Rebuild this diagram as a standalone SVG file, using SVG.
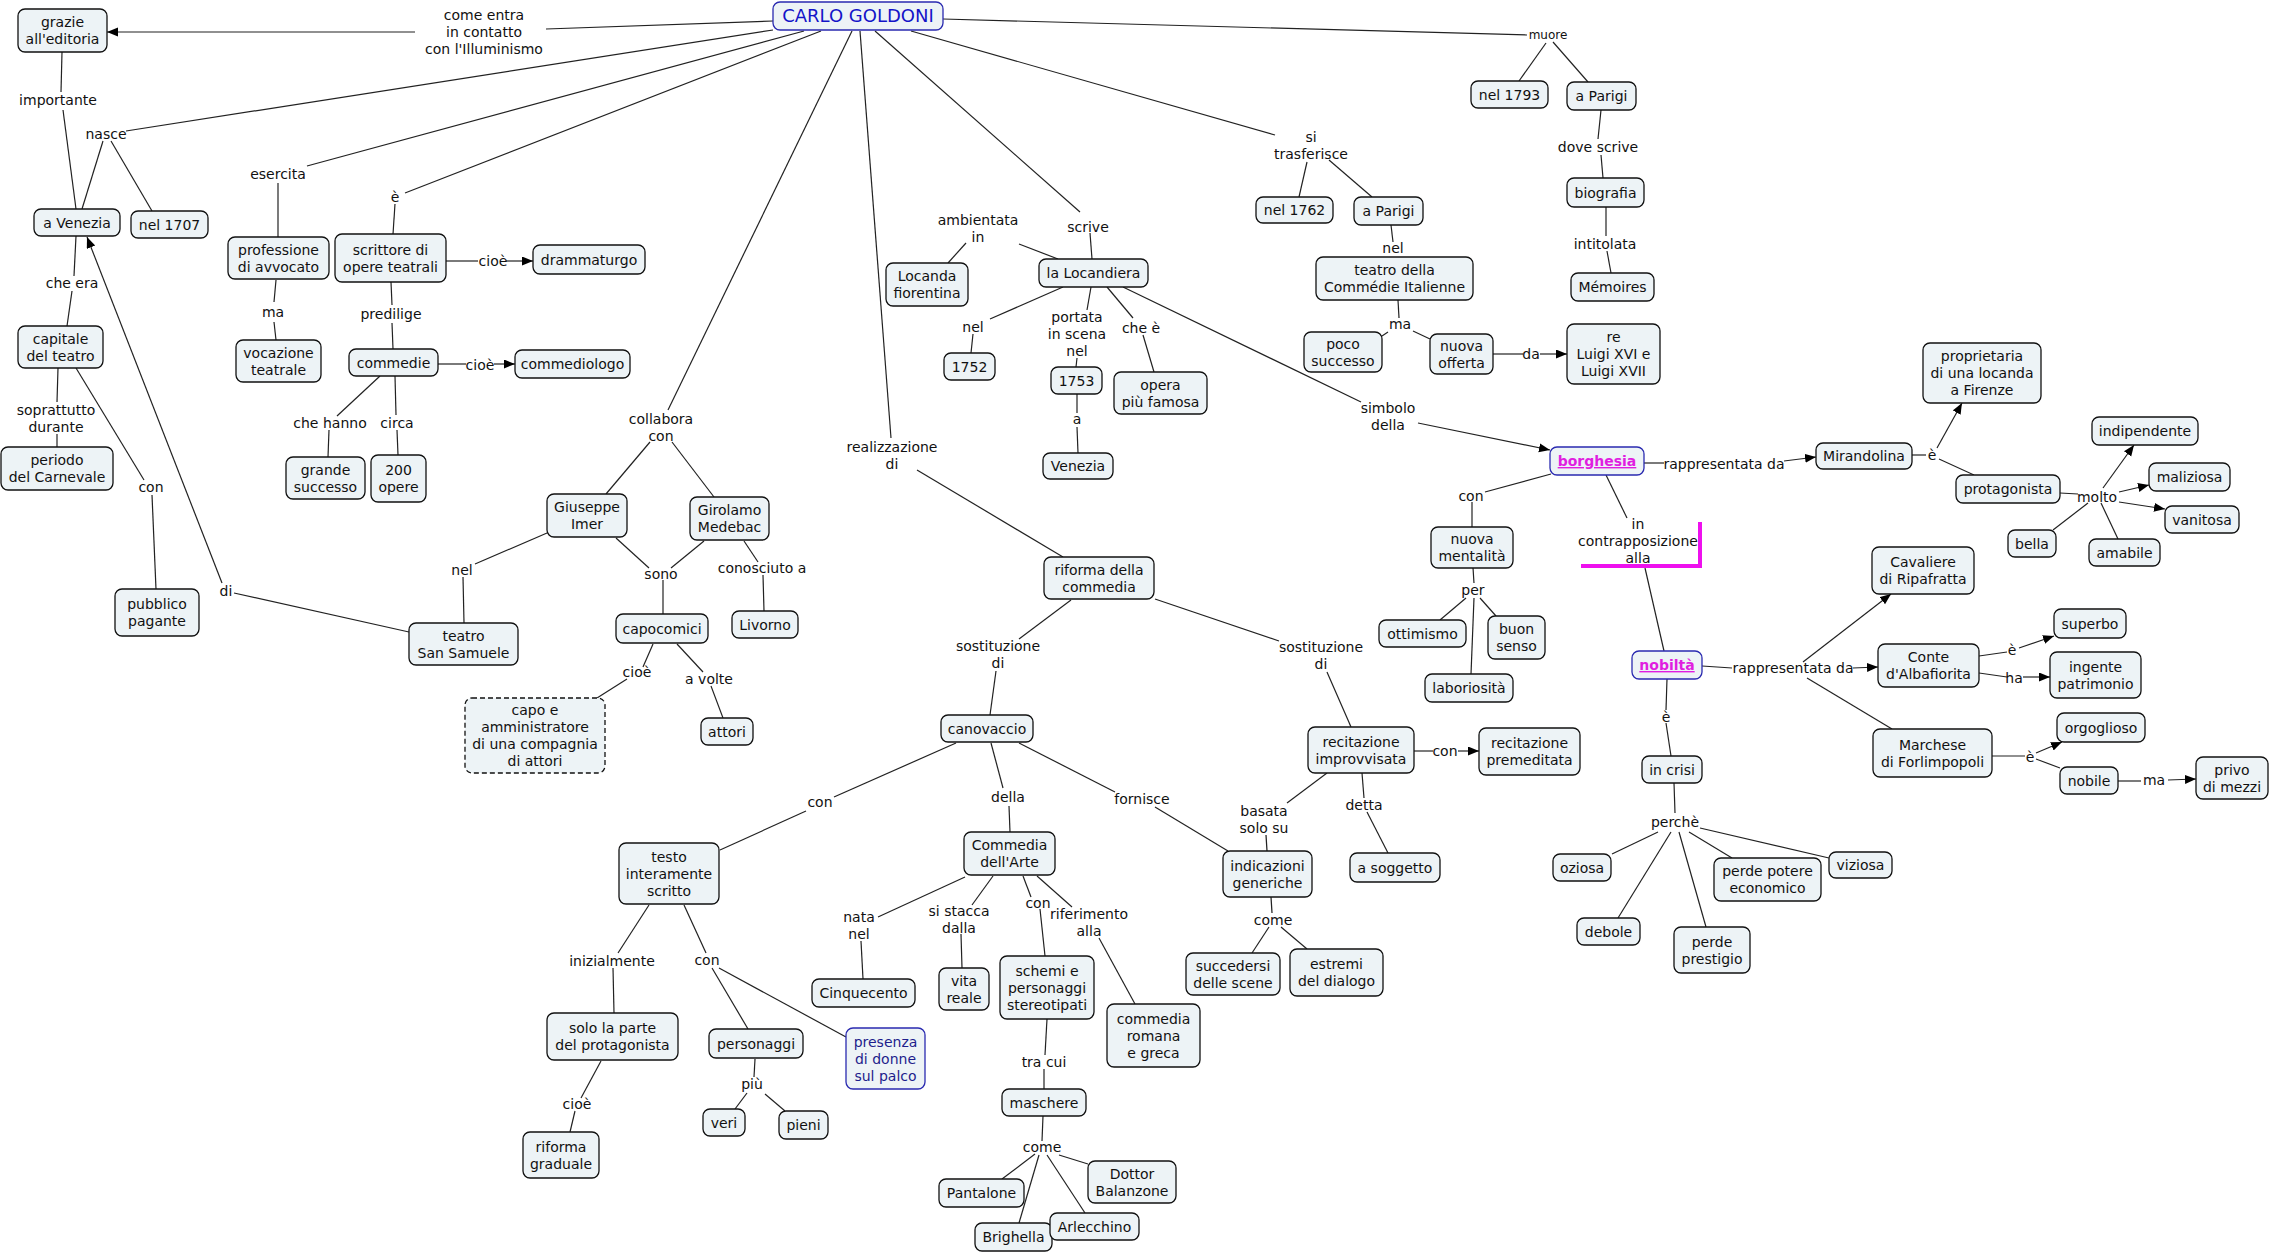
<svg xmlns="http://www.w3.org/2000/svg" width="2274" height="1254" viewBox="0 0 2274 1254">
<style>
text{font-family:"DejaVu Sans",Verdana,sans-serif;font-size:14px;fill:#111;text-anchor:middle}
.node rect{fill:#edf3f6;stroke:#111;stroke-width:1.3}
.blue rect{stroke:#2a2ab0}
.dash rect{stroke-dasharray:5 3}
#connectors line{stroke:#222;stroke-width:1.2}
.arr{marker-end:url(#ah)}
.title{font-size:18px;fill:#1414c8}
.mag{fill:#e01ee0;font-weight:bold;text-decoration:underline}
.dblue{fill:#1e1e8c}
.small{font-size:12px}
</style>
<defs>
<marker id="ah" markerUnits="userSpaceOnUse" markerWidth="12" markerHeight="10" refX="11" refY="4.5" orient="auto"><path d="M0,0 L11,4.5 L0,9 z" fill="#000"/></marker>
</defs>
<rect width="2274" height="1254" fill="#fff"/>
<g id="connectors">
<line x1="773" y1="21" x2="546" y2="29"/>
<line class="arr" x1="415" y1="32" x2="107" y2="32"/>
<line x1="773" y1="30" x2="126" y2="131"/>
<line x1="804" y1="31" x2="307" y2="166"/>
<line x1="821" y1="31" x2="405" y2="193"/>
<line x1="852" y1="31" x2="668" y2="410"/>
<line x1="860" y1="31" x2="891" y2="438"/>
<line x1="875" y1="31" x2="1080" y2="212"/>
<line x1="911" y1="31" x2="1275" y2="135"/>
<line x1="943" y1="19" x2="1527" y2="35"/>
<line x1="62" y1="52" x2="61" y2="92"/>
<line x1="63" y1="110" x2="76" y2="209"/>
<line x1="103" y1="141" x2="82" y2="209"/>
<line x1="111" y1="141" x2="152" y2="211"/>
<line x1="278" y1="183" x2="278" y2="237"/>
<line x1="395" y1="204" x2="393" y2="234"/>
<line x1="446" y1="261" x2="478" y2="261"/>
<line class="arr" x1="506" y1="261" x2="533" y2="261"/>
<line x1="276" y1="280" x2="274" y2="302"/>
<line x1="274" y1="322" x2="276" y2="340"/>
<line x1="391" y1="282" x2="392" y2="305"/>
<line x1="392" y1="323" x2="393" y2="349"/>
<line x1="438" y1="364" x2="466" y2="364"/>
<line class="arr" x1="494" y1="364" x2="515" y2="364"/>
<line x1="76" y1="236" x2="74" y2="276"/>
<line x1="72" y1="291" x2="67" y2="326"/>
<line x1="58" y1="368" x2="57" y2="402"/>
<line x1="57" y1="434" x2="57" y2="447"/>
<line x1="76" y1="368" x2="144" y2="480"/>
<line x1="152" y1="495" x2="156" y2="589"/>
<line class="arr" x1="222" y1="583" x2="87" y2="237"/>
<line x1="234" y1="593" x2="409" y2="632"/>
<line x1="380" y1="376" x2="337" y2="416"/>
<line x1="329" y1="430" x2="328" y2="457"/>
<line x1="395" y1="376" x2="396" y2="415"/>
<line x1="397" y1="430" x2="398" y2="455"/>
<line x1="650" y1="442" x2="606" y2="494"/>
<line x1="672" y1="442" x2="714" y2="497"/>
<line x1="547" y1="533" x2="475" y2="564"/>
<line x1="463" y1="577" x2="464" y2="623"/>
<line x1="616" y1="538" x2="649" y2="568"/>
<line x1="704" y1="541" x2="671" y2="568"/>
<line x1="663" y1="580" x2="663" y2="614"/>
<line x1="744" y1="541" x2="758" y2="562"/>
<line x1="763" y1="575" x2="764" y2="611"/>
<line x1="653" y1="644" x2="643" y2="667"/>
<line x1="627" y1="679" x2="597" y2="698"/>
<line x1="677" y1="644" x2="703" y2="672"/>
<line x1="711" y1="686" x2="723" y2="718"/>
<line x1="917" y1="470" x2="1063" y2="557"/>
<line x1="1071" y1="600" x2="1019" y2="639"/>
<line x1="996" y1="671" x2="990" y2="715"/>
<line x1="1155" y1="599" x2="1279" y2="641"/>
<line x1="1327" y1="672" x2="1351" y2="727"/>
<line x1="956" y1="743" x2="834" y2="797"/>
<line x1="806" y1="811" x2="720" y2="850"/>
<line x1="991" y1="743" x2="1003" y2="788"/>
<line x1="1009" y1="806" x2="1010" y2="832"/>
<line x1="1019" y1="743" x2="1115" y2="792"/>
<line x1="1155" y1="807" x2="1228" y2="851"/>
<line x1="649" y1="905" x2="618" y2="953"/>
<line x1="613" y1="968" x2="614" y2="1013"/>
<line x1="601" y1="1061" x2="581" y2="1098"/>
<line x1="575" y1="1111" x2="570" y2="1132"/>
<line x1="684" y1="905" x2="706" y2="953"/>
<line x1="712" y1="968" x2="748" y2="1029"/>
<line x1="719" y1="968" x2="846" y2="1037"/>
<line x1="755" y1="1059" x2="754" y2="1077"/>
<line x1="747" y1="1093" x2="735" y2="1109"/>
<line x1="765" y1="1094" x2="785" y2="1111"/>
<line x1="965" y1="877" x2="878" y2="917"/>
<line x1="861" y1="941" x2="863" y2="979"/>
<line x1="993" y1="876" x2="972" y2="905"/>
<line x1="961" y1="934" x2="962" y2="968"/>
<line x1="1023" y1="876" x2="1031" y2="897"/>
<line x1="1040" y1="909" x2="1045" y2="956"/>
<line x1="1037" y1="876" x2="1072" y2="907"/>
<line x1="1099" y1="938" x2="1135" y2="1004"/>
<line x1="1047" y1="1019" x2="1045" y2="1055"/>
<line x1="1044" y1="1069" x2="1044" y2="1089"/>
<line x1="1043" y1="1116" x2="1042" y2="1141"/>
<line x1="1035" y1="1154" x2="1002" y2="1179"/>
<line x1="1039" y1="1155" x2="1019" y2="1223"/>
<line x1="1047" y1="1155" x2="1085" y2="1213"/>
<line x1="1059" y1="1155" x2="1088" y2="1164"/>
<line x1="1271" y1="897" x2="1272" y2="913"/>
<line x1="1269" y1="927" x2="1252" y2="953"/>
<line x1="1281" y1="927" x2="1307" y2="949"/>
<line x1="1327" y1="773" x2="1287" y2="803"/>
<line x1="1266" y1="835" x2="1267" y2="851"/>
<line x1="1362" y1="773" x2="1364" y2="798"/>
<line x1="1367" y1="812" x2="1388" y2="853"/>
<line x1="1414" y1="751" x2="1433" y2="751"/>
<line class="arr" x1="1458" y1="751" x2="1479" y2="751"/>
<line x1="1058" y1="259" x2="1019" y2="244"/>
<line x1="966" y1="243" x2="948" y2="263"/>
<line x1="1090" y1="233" x2="1092" y2="259"/>
<line x1="1063" y1="287" x2="990" y2="319"/>
<line x1="973" y1="334" x2="971" y2="353"/>
<line x1="1091" y1="287" x2="1087" y2="310"/>
<line x1="1077" y1="358" x2="1076" y2="367"/>
<line x1="1077" y1="394" x2="1077" y2="413"/>
<line x1="1077" y1="427" x2="1078" y2="453"/>
<line x1="1107" y1="287" x2="1133" y2="318"/>
<line x1="1143" y1="335" x2="1154" y2="372"/>
<line x1="1123" y1="287" x2="1361" y2="402"/>
<line class="arr" x1="1418" y1="423" x2="1550" y2="450"/>
<line x1="1307" y1="162" x2="1299" y2="197"/>
<line x1="1329" y1="160" x2="1372" y2="197"/>
<line x1="1391" y1="225" x2="1393" y2="242"/>
<line x1="1398" y1="300" x2="1399" y2="318"/>
<line x1="1388" y1="332" x2="1382" y2="336"/>
<line x1="1413" y1="331" x2="1430" y2="339"/>
<line x1="1493" y1="354" x2="1523" y2="354"/>
<line class="arr" x1="1540" y1="354" x2="1567" y2="354"/>
<line x1="1546" y1="43" x2="1519" y2="81"/>
<line x1="1553" y1="42" x2="1588" y2="82"/>
<line x1="1601" y1="110" x2="1598" y2="139"/>
<line x1="1601" y1="155" x2="1603" y2="178"/>
<line x1="1606" y1="207" x2="1606" y2="236"/>
<line x1="1607" y1="251" x2="1611" y2="273"/>
<line x1="1644" y1="463" x2="1664" y2="463"/>
<line class="arr" x1="1784" y1="461" x2="1816" y2="457"/>
<line x1="1912" y1="455" x2="1926" y2="455"/>
<line class="arr" x1="1937" y1="448" x2="1962" y2="403"/>
<line x1="1939" y1="459" x2="1974" y2="475"/>
<line x1="2060" y1="493" x2="2078" y2="494"/>
<line class="arr" x1="2103" y1="488" x2="2134" y2="445"/>
<line class="arr" x1="2119" y1="492" x2="2149" y2="485"/>
<line class="arr" x1="2119" y1="502" x2="2165" y2="509"/>
<line x1="2088" y1="503" x2="2053" y2="530"/>
<line x1="2101" y1="503" x2="2118" y2="539"/>
<line x1="1551" y1="474" x2="1485" y2="492"/>
<line x1="1472" y1="502" x2="1472" y2="527"/>
<line x1="1473" y1="568" x2="1474" y2="583"/>
<line x1="1466" y1="598" x2="1440" y2="620"/>
<line x1="1480" y1="598" x2="1496" y2="616"/>
<line x1="1474" y1="598" x2="1471" y2="674"/>
<line x1="1606" y1="475" x2="1627" y2="518"/>
<line x1="1645" y1="568" x2="1664" y2="651"/>
<line x1="1667" y1="679" x2="1666" y2="710"/>
<line x1="1666" y1="723" x2="1671" y2="756"/>
<line x1="1674" y1="783" x2="1675" y2="813"/>
<line x1="1658" y1="832" x2="1612" y2="854"/>
<line x1="1671" y1="832" x2="1618" y2="918"/>
<line x1="1679" y1="832" x2="1706" y2="927"/>
<line x1="1689" y1="832" x2="1732" y2="858"/>
<line x1="1700" y1="828" x2="1829" y2="858"/>
<line x1="1702" y1="666" x2="1732" y2="668"/>
<line class="arr" x1="1853" y1="668" x2="1878" y2="667"/>
<line class="arr" x1="1803" y1="662" x2="1891" y2="594"/>
<line x1="1807" y1="678" x2="1892" y2="729"/>
<line x1="1979" y1="656" x2="2007" y2="652"/>
<line class="arr" x1="2019" y1="648" x2="2054" y2="636"/>
<line x1="1979" y1="673" x2="2007" y2="677"/>
<line class="arr" x1="2023" y1="677" x2="2050" y2="677"/>
<line x1="1992" y1="756" x2="2025" y2="756"/>
<line class="arr" x1="2036" y1="753" x2="2062" y2="742"/>
<line x1="2036" y1="759" x2="2060" y2="768"/>
<line x1="2118" y1="781" x2="2141" y2="781"/>
<line class="arr" x1="2168" y1="780" x2="2196" y2="779"/>
</g>
<path d="M1581 566 H1700 V522" fill="none" stroke="#ee10ee" stroke-width="4"/>
<g id="labels">
<text x="484" y="20">come entra</text><text x="484" y="37">in contatto</text><text x="484" y="54">con l'Illuminismo</text>
<text x="58" y="105">importante</text>
<text x="106" y="139">nasce</text>
<text x="278" y="179">esercita</text>
<text x="395" y="202">è</text>
<text x="493" y="266">cioè</text>
<text x="273" y="317">ma</text>
<text x="391" y="319">predilige</text>
<text x="480" y="370">cioè</text>
<text x="72" y="288">che era</text>
<text x="56" y="415">soprattutto</text><text x="56" y="432">durante</text>
<text x="151" y="492">con</text>
<text x="226" y="596">di</text>
<text x="330" y="428">che hanno</text>
<text x="397" y="428">circa</text>
<text x="462" y="575">nel</text>
<text x="661" y="424">collabora</text><text x="661" y="441">con</text>
<text x="661" y="579">sono</text>
<text x="762" y="573">conosciuto a</text>
<text x="637" y="677">cioè</text>
<text x="709" y="684">a volte</text>
<text x="892" y="452">realizzazione</text><text x="892" y="469">di</text>
<text x="998" y="651">sostituzione</text><text x="998" y="668">di</text>
<text x="820" y="807">con</text>
<text x="1008" y="802">della</text>
<text x="1142" y="804">fornisce</text>
<text x="612" y="966">inizialmente</text>
<text x="707" y="965">con</text>
<text x="577" y="1109">cioè</text>
<text x="752" y="1089">più</text>
<text x="859" y="922">nata</text><text x="859" y="939">nel</text>
<text x="959" y="916">si stacca</text><text x="959" y="933">dalla</text>
<text x="1038" y="908">con</text>
<text x="1089" y="919">riferimento</text><text x="1089" y="936">alla</text>
<text x="1044" y="1067">tra cui</text>
<text x="1042" y="1152">come</text>
<text x="1273" y="925">come</text>
<text x="1264" y="816">basata</text><text x="1264" y="833">solo su</text>
<text x="1364" y="810">detta</text>
<text x="1321" y="652">sostituzione</text><text x="1321" y="669">di</text>
<text x="1445" y="756">con</text>
<text x="978" y="225">ambientata</text><text x="978" y="242">in</text>
<text x="1088" y="232">scrive</text>
<text x="973" y="332">nel</text>
<text x="1077" y="322">portata</text><text x="1077" y="339">in scena</text><text x="1077" y="356">nel</text>
<text x="1077" y="424">a</text>
<text x="1141" y="333">che è</text>
<text x="1388" y="413">simbolo</text><text x="1388" y="430">della</text>
<text x="1311" y="142">si</text><text x="1311" y="159">trasferisce</text>
<text x="1393" y="253">nel</text>
<text x="1400" y="329">ma</text>
<text x="1531" y="359">da</text>
<text class="small" x="1548" y="39">muore</text>
<text x="1598" y="152">dove scrive</text>
<text x="1605" y="249">intitolata</text>
<text x="1724" y="469">rappresentata da</text>
<text x="1932" y="460">è</text>
<text x="2097" y="502">molto</text>
<text x="1471" y="501">con</text>
<text x="1473" y="595">per</text>
<text x="1638" y="529">in</text><text x="1638" y="546">contrapposizione</text><text x="1638" y="563">alla</text>
<text x="1666" y="722">è</text>
<text x="1675" y="827">perchè</text>
<text x="1793" y="673">rappresentata da</text>
<text x="2012" y="655">è</text>
<text x="2014" y="683">ha</text>
<text x="2030" y="762">è</text>
<text x="2154" y="785">ma</text>
</g>
<g id="carlo" class="node blue"><rect x="773" y="2" width="170" height="28" rx="7"/><text class="title" x="858" y="22">CARLO GOLDONI</text></g>
<g id="grazie" class="node"><rect x="18" y="9" width="89" height="43" rx="7"/><text x="62.5" y="27">grazie</text><text x="62.5" y="44">all'editoria</text></g>
<g id="venezia1" class="node"><rect x="34" y="209" width="86" height="27" rx="7"/><text x="77" y="227.5">a Venezia</text></g>
<g id="nel1707" class="node"><rect x="131" y="211" width="77" height="27" rx="7"/><text x="169.5" y="229.5">nel 1707</text></g>
<g id="professione" class="node"><rect x="228" y="237" width="101" height="42" rx="7"/><text x="278.5" y="254.5">professione</text><text x="278.5" y="271.5">di avvocato</text></g>
<g id="scrittore" class="node"><rect x="335" y="234" width="111" height="48" rx="7"/><text x="390.5" y="254.5">scrittore di</text><text x="390.5" y="271.5">opere teatrali</text></g>
<g id="drammaturgo" class="node"><rect x="533" y="245" width="112" height="29" rx="7"/><text x="589" y="264.5">drammaturgo</text></g>
<g id="vocazione" class="node"><rect x="236" y="340" width="85" height="42" rx="7"/><text x="278.5" y="357.5">vocazione</text><text x="278.5" y="374.5">teatrale</text></g>
<g id="commedie" class="node"><rect x="349" y="349" width="89" height="27" rx="7"/><text x="393.5" y="367.5">commedie</text></g>
<g id="commediologo" class="node"><rect x="515" y="350" width="115" height="28" rx="7"/><text x="572.5" y="369">commediologo</text></g>
<g id="capitale" class="node"><rect x="18" y="326" width="85" height="42" rx="7"/><text x="60.5" y="343.5">capitale</text><text x="60.5" y="360.5">del teatro</text></g>
<g id="periodo" class="node"><rect x="1" y="447" width="112" height="43" rx="7"/><text x="57" y="465">periodo</text><text x="57" y="482">del Carnevale</text></g>
<g id="pubblico" class="node"><rect x="115" y="589" width="84" height="47" rx="7"/><text x="157" y="609">pubblico</text><text x="157" y="626">pagante</text></g>
<g id="grande" class="node"><rect x="286" y="457" width="79" height="42" rx="7"/><text x="325.5" y="474.5">grande</text><text x="325.5" y="491.5">successo</text></g>
<g id="duecento" class="node"><rect x="371" y="455" width="55" height="47" rx="7"/><text x="398.5" y="475">200</text><text x="398.5" y="492">opere</text></g>
<g id="sansamuele" class="node"><rect x="409" y="623" width="109" height="42" rx="7"/><text x="463.5" y="640.5">teatro</text><text x="463.5" y="657.5">San Samuele</text></g>
<g id="capo" class="node dash"><rect x="465" y="698" width="140" height="75" rx="7"/><text x="535" y="715">capo e</text><text x="535" y="732">amministratore</text><text x="535" y="749">di una compagnia</text><text x="535" y="766">di attori</text></g>
<g id="imer" class="node"><rect x="547" y="494" width="80" height="43" rx="7"/><text x="587" y="512">Giuseppe</text><text x="587" y="529">Imer</text></g>
<g id="medebac" class="node"><rect x="690" y="497" width="79" height="43" rx="7"/><text x="729.5" y="515">Girolamo</text><text x="729.5" y="532">Medebac</text></g>
<g id="capocomici" class="node"><rect x="616" y="614" width="92" height="29" rx="7"/><text x="662" y="633.5">capocomici</text></g>
<g id="livorno" class="node"><rect x="732" y="611" width="66" height="27" rx="7"/><text x="765" y="629.5">Livorno</text></g>
<g id="attori" class="node"><rect x="701" y="718" width="52" height="27" rx="7"/><text x="727" y="736.5">attori</text></g>
<g id="riforma" class="node"><rect x="1044" y="557" width="110" height="42" rx="7"/><text x="1099" y="574.5">riforma della</text><text x="1099" y="591.5">commedia</text></g>
<g id="canovaccio" class="node"><rect x="941" y="715" width="92" height="27" rx="7"/><text x="987" y="733.5">canovaccio</text></g>
<g id="testo" class="node"><rect x="619" y="843" width="100" height="61" rx="7"/><text x="669" y="861.5">testo</text><text x="669" y="878.5">interamente</text><text x="669" y="895.5">scritto</text></g>
<g id="solo" class="node"><rect x="547" y="1013" width="131" height="47" rx="7"/><text x="612.5" y="1033">solo la parte</text><text x="612.5" y="1050">del protagonista</text></g>
<g id="riformagraduale" class="node"><rect x="523" y="1132" width="76" height="46" rx="7"/><text x="561" y="1151.5">riforma</text><text x="561" y="1168.5">graduale</text></g>
<g id="personaggi" class="node"><rect x="709" y="1029" width="94" height="29" rx="7"/><text x="756" y="1048.5">personaggi</text></g>
<g id="veri" class="node"><rect x="703" y="1109" width="42" height="27" rx="7"/><text x="724" y="1127.5">veri</text></g>
<g id="pieni" class="node"><rect x="779" y="1111" width="49" height="28" rx="7"/><text x="803.5" y="1130">pieni</text></g>
<g id="presenza" class="node blue"><rect x="846" y="1028" width="79" height="61" rx="7"/><text class="dblue" x="885.5" y="1046.5">presenza</text><text class="dblue" x="885.5" y="1063.5">di donne</text><text class="dblue" x="885.5" y="1080.5">sul palco</text></g>
<g id="cinquecento" class="node"><rect x="812" y="979" width="103" height="28" rx="7"/><text x="863.5" y="998">Cinquecento</text></g>
<g id="commediaarte" class="node"><rect x="964" y="832" width="91" height="43" rx="7"/><text x="1009.5" y="850">Commedia</text><text x="1009.5" y="867">dell'Arte</text></g>
<g id="vita" class="node"><rect x="939" y="968" width="50" height="42" rx="7"/><text x="964" y="985.5">vita</text><text x="964" y="1002.5">reale</text></g>
<g id="schemi" class="node"><rect x="1000" y="956" width="94" height="63" rx="7"/><text x="1047" y="975.5">schemi e</text><text x="1047" y="992.5">personaggi</text><text x="1047" y="1009.5">stereotipati</text></g>
<g id="romana" class="node"><rect x="1107" y="1004" width="93" height="63" rx="7"/><text x="1153.5" y="1023.5">commedia</text><text x="1153.5" y="1040.5">romana</text><text x="1153.5" y="1057.5">e greca</text></g>
<g id="maschere" class="node"><rect x="1002" y="1089" width="84" height="27" rx="7"/><text x="1044" y="1107.5">maschere</text></g>
<g id="pantalone" class="node"><rect x="939" y="1179" width="85" height="28" rx="7"/><text x="981.5" y="1198">Pantalone</text></g>
<g id="brighella" class="node"><rect x="975" y="1223" width="77" height="28" rx="7"/><text x="1013.5" y="1242">Brighella</text></g>
<g id="arlecchino" class="node"><rect x="1050" y="1213" width="89" height="27" rx="7"/><text x="1094.5" y="1231.5">Arlecchino</text></g>
<g id="dottor" class="node"><rect x="1088" y="1161" width="88" height="42" rx="7"/><text x="1132" y="1178.5">Dottor</text><text x="1132" y="1195.5">Balanzone</text></g>
<g id="indicazioni" class="node"><rect x="1223" y="851" width="89" height="46" rx="7"/><text x="1267.5" y="870.5">indicazioni</text><text x="1267.5" y="887.5">generiche</text></g>
<g id="succedersi" class="node"><rect x="1186" y="953" width="94" height="42" rx="7"/><text x="1233" y="970.5">succedersi</text><text x="1233" y="987.5">delle scene</text></g>
<g id="estremi" class="node"><rect x="1290" y="949" width="93" height="47" rx="7"/><text x="1336.5" y="969">estremi</text><text x="1336.5" y="986">del dialogo</text></g>
<g id="soggetto" class="node"><rect x="1350" y="853" width="90" height="29" rx="7"/><text x="1395" y="872.5">a soggetto</text></g>
<g id="improvvisata" class="node"><rect x="1308" y="727" width="106" height="46" rx="7"/><text x="1361" y="746.5">recitazione</text><text x="1361" y="763.5">improvvisata</text></g>
<g id="premeditata" class="node"><rect x="1479" y="728" width="101" height="47" rx="7"/><text x="1529.5" y="748">recitazione</text><text x="1529.5" y="765">premeditata</text></g>
<g id="locanda" class="node"><rect x="886" y="263" width="82" height="43" rx="7"/><text x="927" y="281">Locanda</text><text x="927" y="298">fiorentina</text></g>
<g id="locandiera" class="node"><rect x="1039" y="259" width="109" height="28" rx="7"/><text x="1093.5" y="278">la Locandiera</text></g>
<g id="y1752" class="node"><rect x="944" y="353" width="51" height="27" rx="7"/><text x="969.5" y="371.5">1752</text></g>
<g id="y1753" class="node"><rect x="1051" y="367" width="51" height="27" rx="7"/><text x="1076.5" y="385.5">1753</text></g>
<g id="venezia2" class="node"><rect x="1043" y="453" width="70" height="26" rx="7"/><text x="1078" y="471">Venezia</text></g>
<g id="opera" class="node"><rect x="1114" y="372" width="93" height="42" rx="7"/><text x="1160.5" y="389.5">opera</text><text x="1160.5" y="406.5">più famosa</text></g>
<g id="nel1762" class="node"><rect x="1256" y="197" width="77" height="26" rx="7"/><text x="1294.5" y="215">nel 1762</text></g>
<g id="parigi1" class="node"><rect x="1354" y="197" width="69" height="28" rx="7"/><text x="1388.5" y="216">a Parigi</text></g>
<g id="commedieitalienne" class="node"><rect x="1316" y="257" width="157" height="43" rx="7"/><text x="1394.5" y="275">teatro della</text><text x="1394.5" y="292">Commédie Italienne</text></g>
<g id="poco" class="node"><rect x="1304" y="332" width="78" height="40" rx="7"/><text x="1343" y="348.5">poco</text><text x="1343" y="365.5">successo</text></g>
<g id="nuovaofferta" class="node"><rect x="1430" y="334" width="63" height="40" rx="7"/><text x="1461.5" y="350.5">nuova</text><text x="1461.5" y="367.5">offerta</text></g>
<g id="re" class="node"><rect x="1567" y="324" width="93" height="60" rx="7"/><text x="1613.5" y="342">re</text><text x="1613.5" y="359">Luigi XVI e</text><text x="1613.5" y="376">Luigi XVII</text></g>
<g id="nel1793" class="node"><rect x="1471" y="81" width="77" height="27" rx="7"/><text x="1509.5" y="99.5">nel 1793</text></g>
<g id="parigi2" class="node"><rect x="1567" y="82" width="69" height="28" rx="7"/><text x="1601.5" y="101">a Parigi</text></g>
<g id="biografia" class="node"><rect x="1567" y="178" width="77" height="29" rx="7"/><text x="1605.5" y="197.5">biografia</text></g>
<g id="memoires" class="node"><rect x="1571" y="273" width="83" height="28" rx="7"/><text x="1612.5" y="292">Mémoires</text></g>
<g id="borghesia" class="node blue"><rect x="1550" y="447" width="94" height="28" rx="7"/><text class="mag" x="1597" y="466">borghesia</text></g>
<g id="mirandolina" class="node"><rect x="1816" y="443" width="96" height="26" rx="7"/><text x="1864" y="461">Mirandolina</text></g>
<g id="proprietaria" class="node"><rect x="1923" y="343" width="118" height="60" rx="7"/><text x="1982" y="361">proprietaria</text><text x="1982" y="378">di una locanda</text><text x="1982" y="395">a Firenze</text></g>
<g id="protagonista" class="node"><rect x="1956" y="475" width="104" height="28" rx="7"/><text x="2008" y="494">protagonista</text></g>
<g id="indipendente" class="node"><rect x="2092" y="417" width="106" height="28" rx="7"/><text x="2145" y="436">indipendente</text></g>
<g id="maliziosa" class="node"><rect x="2149" y="463" width="81" height="28" rx="7"/><text x="2189.5" y="482">maliziosa</text></g>
<g id="vanitosa" class="node"><rect x="2165" y="506" width="74" height="27" rx="7"/><text x="2202" y="524.5">vanitosa</text></g>
<g id="bella" class="node"><rect x="2008" y="530" width="48" height="27" rx="7"/><text x="2032" y="548.5">bella</text></g>
<g id="amabile" class="node"><rect x="2089" y="539" width="71" height="27" rx="7"/><text x="2124.5" y="557.5">amabile</text></g>
<g id="nuovamentalita" class="node"><rect x="1431" y="527" width="82" height="41" rx="7"/><text x="1472" y="544">nuova</text><text x="1472" y="561">mentalità</text></g>
<g id="ottimismo" class="node"><rect x="1379" y="620" width="87" height="27" rx="7"/><text x="1422.5" y="638.5">ottimismo</text></g>
<g id="buonsenso" class="node"><rect x="1488" y="616" width="57" height="43" rx="7"/><text x="1516.5" y="634">buon</text><text x="1516.5" y="651">senso</text></g>
<g id="laboriosita" class="node"><rect x="1425" y="674" width="88" height="28" rx="7"/><text x="1469" y="693">laboriosità</text></g>
<g id="nobilta" class="node blue"><rect x="1632" y="651" width="70" height="28" rx="7"/><text class="mag" x="1667" y="670">nobiltà</text></g>
<g id="incrisi" class="node"><rect x="1642" y="756" width="60" height="27" rx="7"/><text x="1672" y="774.5">in crisi</text></g>
<g id="oziosa" class="node"><rect x="1553" y="854" width="58" height="27" rx="7"/><text x="1582" y="872.5">oziosa</text></g>
<g id="debole" class="node"><rect x="1577" y="918" width="63" height="27" rx="7"/><text x="1608.5" y="936.5">debole</text></g>
<g id="prestigio" class="node"><rect x="1674" y="927" width="76" height="46" rx="7"/><text x="1712" y="946.5">perde</text><text x="1712" y="963.5">prestigio</text></g>
<g id="potere" class="node"><rect x="1714" y="858" width="107" height="43" rx="7"/><text x="1767.5" y="876">perde potere</text><text x="1767.5" y="893">economico</text></g>
<g id="viziosa" class="node"><rect x="1829" y="852" width="63" height="26" rx="7"/><text x="1860.5" y="870">viziosa</text></g>
<g id="cavaliere" class="node"><rect x="1872" y="547" width="102" height="47" rx="7"/><text x="1923" y="567">Cavaliere</text><text x="1923" y="584">di Ripafratta</text></g>
<g id="conte" class="node"><rect x="1878" y="644" width="101" height="43" rx="7"/><text x="1928.5" y="662">Conte</text><text x="1928.5" y="679">d'Albafiorita</text></g>
<g id="marchese" class="node"><rect x="1873" y="729" width="119" height="48" rx="7"/><text x="1932.5" y="749.5">Marchese</text><text x="1932.5" y="766.5">di Forlimpopoli</text></g>
<g id="superbo" class="node"><rect x="2054" y="609" width="72" height="29" rx="7"/><text x="2090" y="628.5">superbo</text></g>
<g id="ingente" class="node"><rect x="2050" y="652" width="91" height="46" rx="7"/><text x="2095.5" y="671.5">ingente</text><text x="2095.5" y="688.5">patrimonio</text></g>
<g id="orgoglioso" class="node"><rect x="2057" y="713" width="88" height="29" rx="7"/><text x="2101" y="732.5">orgoglioso</text></g>
<g id="nobile" class="node"><rect x="2060" y="767" width="58" height="27" rx="7"/><text x="2089" y="785.5">nobile</text></g>
<g id="privo" class="node"><rect x="2196" y="757" width="72" height="42" rx="7"/><text x="2232" y="774.5">privo</text><text x="2232" y="791.5">di mezzi</text></g>
</svg>
